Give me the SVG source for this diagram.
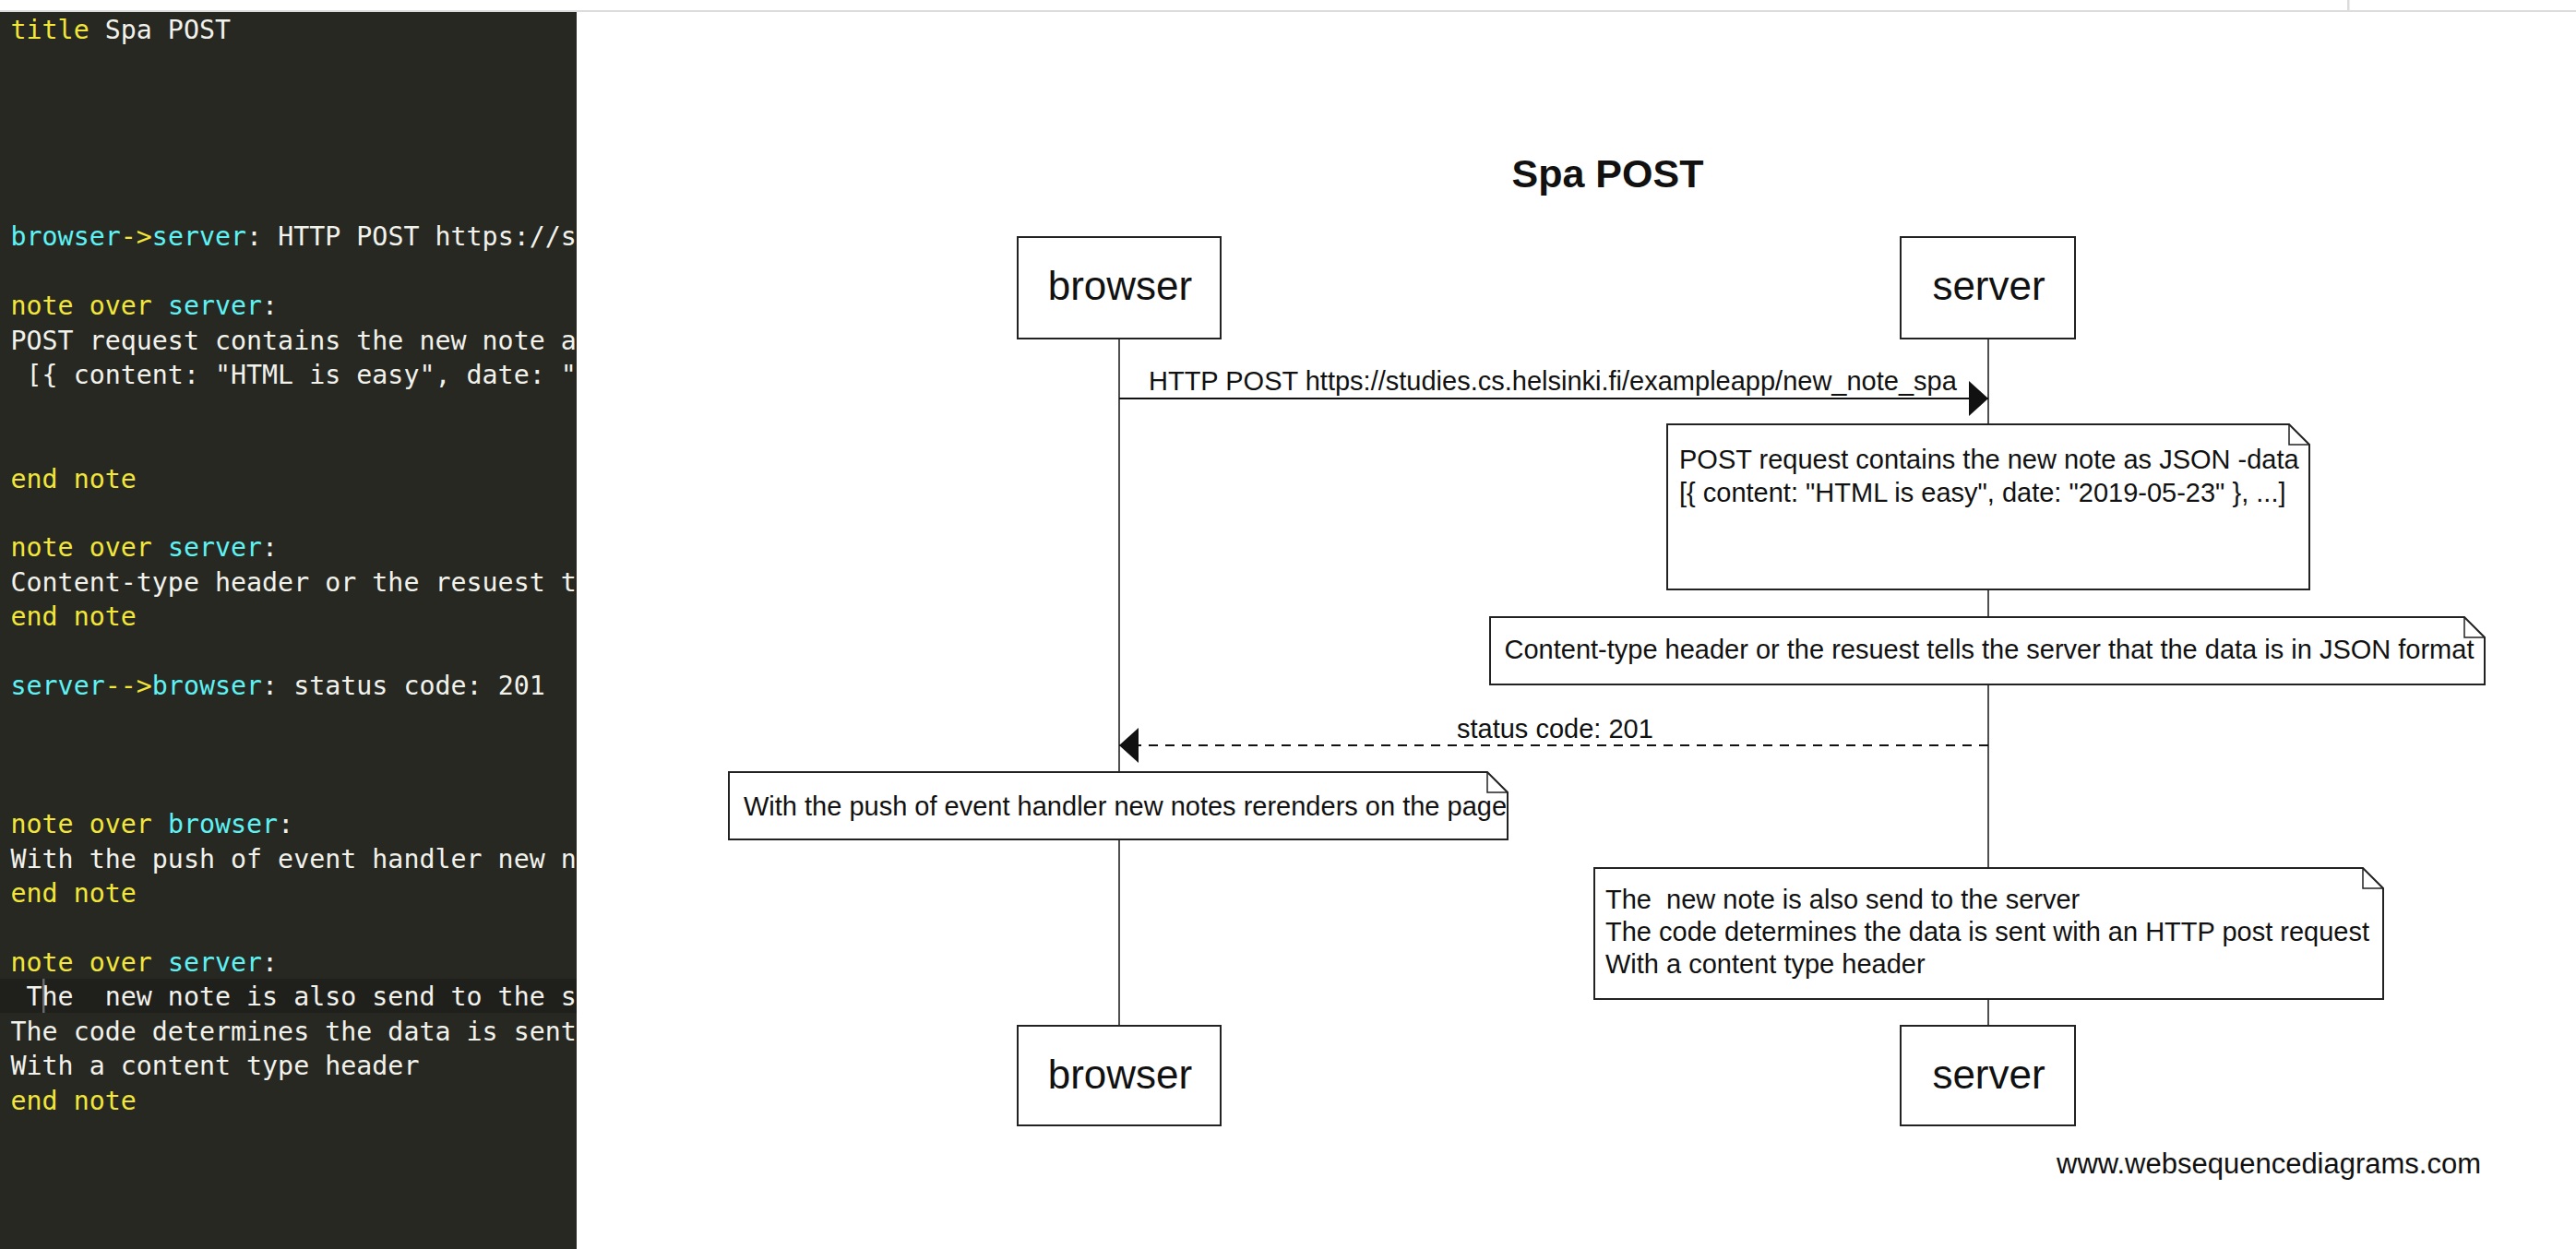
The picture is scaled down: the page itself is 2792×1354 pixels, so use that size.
<svg xmlns="http://www.w3.org/2000/svg" width="2792" height="1354" viewBox="0 0 2792 1354">
<style>
.code{font-family:"DejaVu Sans Mono","Liberation Mono",monospace;font-size:28.3px;fill:#f2f2ec;white-space:pre}
.kw{fill:#f2e63a}
.id{fill:#5ef2f4}
.box{fill:#fff;stroke:#222;stroke-width:2}
.note{fill:#fff;stroke:#222;stroke-width:2;stroke-linejoin:miter}
.fold{fill:none;stroke:#222;stroke-width:1.5}
.life{stroke:#222;stroke-width:1.6;fill:none}
.msg{stroke:#111;stroke-width:2;fill:none}
.dash{stroke-dasharray:10 8}
.part{font-family:"Liberation Sans",Arial,sans-serif;font-size:44px;fill:#111;text-anchor:middle}
.lbl{font-family:"Liberation Sans",Arial,sans-serif;font-size:29px;fill:#111;white-space:pre}
.title{font-family:"Liberation Sans",Arial,sans-serif;font-size:43px;font-weight:bold;fill:#111;text-anchor:middle}
</style>
<defs>
<clipPath id="panelClip"><rect x="0" y="12" width="625" height="1342"/></clipPath>
<marker id="head" markerUnits="userSpaceOnUse" markerWidth="22" markerHeight="40" refX="21" refY="19" orient="auto" viewBox="0 0 22 40">
<path d="M0,0 L21,19 L0,38 Z" fill="#111" stroke="none"/>
</marker>
</defs>
<rect x="0" y="0" width="2792" height="1354" fill="#fff"/>
<rect x="0" y="11" width="2792" height="2" fill="#dcdcdc"/>
<rect x="2544" y="0" width="2.5" height="11" fill="#dcdcdc"/>

<g id="editor">
<rect x="0" y="13" width="625" height="1341" fill="#272822"/>
<rect x="0" y="1061" width="625" height="37" fill="#1f1f1c"/>
<rect x="46" y="1061" width="2.5" height="37" fill="#6a6a6a"/>
<g clip-path="url(#panelClip)" class="code">
<text x="11.5" y="41.7"><tspan class="kw">title</tspan> Spa POST</text>
<text x="11.5" y="266.4"><tspan class="id">browser</tspan><tspan class="kw">-&gt;</tspan><tspan class="id">server</tspan>: HTTP POST https://s</text>
<text x="11.5" y="341.3"><tspan class="kw">note over</tspan> <tspan class="id">server</tspan>:</text>
<text x="11.5" y="378.75">POST request contains the new note a</text>
<text x="11.5" y="416.2" xml:space="preserve"> [{ content: "HTML is easy", date: "</text>
<text x="11.5" y="528.55"><tspan class="kw">end note</tspan></text>
<text x="11.5" y="603.45"><tspan class="kw">note over</tspan> <tspan class="id">server</tspan>:</text>
<text x="11.5" y="640.9">Content-type header or the resuest t</text>
<text x="11.5" y="678.35"><tspan class="kw">end note</tspan></text>
<text x="11.5" y="753.25"><tspan class="id">server</tspan><tspan class="kw">--&gt;</tspan><tspan class="id">browser</tspan>: status code: 201</text>
<text x="11.5" y="903.05"><tspan class="kw">note over</tspan> <tspan class="id">browser</tspan>:</text>
<text x="11.5" y="940.5">With the push of event handler new n</text>
<text x="11.5" y="977.95"><tspan class="kw">end note</tspan></text>
<text x="11.5" y="1052.85"><tspan class="kw">note over</tspan> <tspan class="id">server</tspan>:</text>
<text x="11.5" y="1090.3" xml:space="preserve"> The  new note is also send to the s</text>
<text x="11.5" y="1127.75">The code determines the data is sent</text>
<text x="11.5" y="1165.2">With a content type header</text>
<text x="11.5" y="1202.65"><tspan class="kw">end note</tspan></text>
</g>
</g>

<text id="title" class="title" x="1742.5" y="203">Spa POST</text>

<g id="lifelines">
<line class="life" x1="1213" y1="367" x2="1213" y2="1112"/>
<line class="life" x1="2155" y1="367" x2="2155" y2="1112"/>
</g>

<g id="connectors">
<g id="msg-post">
<line class="msg" x1="1213" y1="432" x2="2155" y2="432" marker-end="url(#head)"/>
<text class="lbl" x="1245" y="423">HTTP POST https://studies.cs.helsinki.fi/exampleapp/new_note_spa</text>
</g>
<g id="msg-status">
<line class="msg dash" x1="2155" y1="808" x2="1213" y2="808" marker-end="url(#head)"/>
<text class="lbl" x="1579" y="800">status code: 201</text>
</g>
</g>

<g id="browser-top">
<rect class="box" x="1103" y="257" width="220" height="110"/>
<text class="part" x="1214" y="325">browser</text>
</g>
<g id="server-top">
<rect class="box" x="2060" y="257" width="189" height="110"/>
<text class="part" x="2155.5" y="325">server</text>
</g>

<g id="note-json">
<path class="note" d="M1807,460 H2481 L2503,482 V639 H1807 Z"/>
<path class="fold" d="M2481,460 V482 H2503"/>
<text class="lbl" x="1820" y="507.7">POST request contains the new note as JSON -data</text>
<text class="lbl" x="1820" y="544">[{ content: "HTML is easy", date: "2019-05-23" }, ...]</text>
</g>

<g id="note-content-type">
<path class="note" d="M1615,669 H2671 L2693,691 V742 H1615 Z"/>
<path class="fold" d="M2671,669 V691 H2693"/>
<text class="lbl" x="1630.5" y="714">Content-type header or the resuest tells the server that the data is in JSON format</text>
</g>

<g id="note-rerender">
<path class="note" d="M790,837 H1612 L1634,859 V910 H790 Z"/>
<path class="fold" d="M1612,837 V859 H1634"/>
<text class="lbl" x="806" y="884">With the push of event handler new notes rerenders on the page</text>
</g>

<g id="note-send">
<path class="note" d="M1728,941 H2561 L2583,963 V1083 H1728 Z"/>
<path class="fold" d="M2561,941 V963 H2583"/>
<text class="lbl" x="1740" y="985" xml:space="preserve">The  new note is also send to the server</text>
<text class="lbl" x="1740" y="1019.5">The code determines the data is sent with an HTTP post request</text>
<text class="lbl" x="1740" y="1055">With a content type header</text>
</g>

<g id="browser-bottom">
<rect class="box" x="1103" y="1112" width="220" height="108"/>
<text class="part" x="1214" y="1180">browser</text>
</g>
<g id="server-bottom">
<rect class="box" x="2060" y="1112" width="189" height="108"/>
<text class="part" x="2155.5" y="1180">server</text>
</g>

<text id="watermark" class="lbl" x="2229" y="1272" style="font-size:31px">www.websequencediagrams.com</text>
</svg>
